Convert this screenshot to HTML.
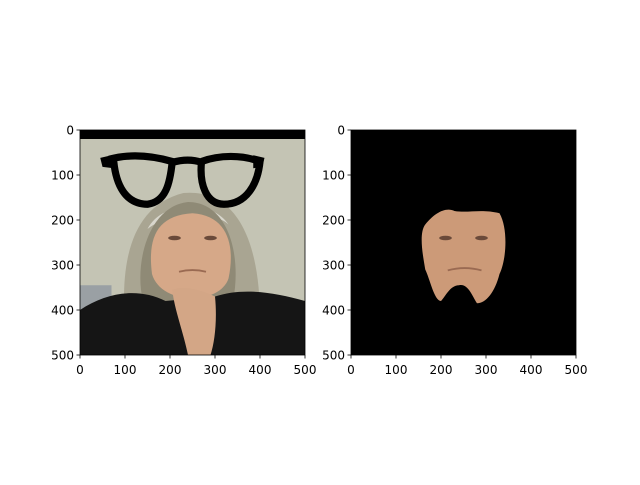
<!DOCTYPE html>
<html><head><meta charset="utf-8"><style>
body{margin:0;background:#fff;}
svg text{font-family:"DejaVu Sans","Liberation Sans",sans-serif;font-size:12px;fill:#000;}
</style></head><body>
<svg width="640" height="480" viewBox="0 0 640 480">
<defs>
<clipPath id="c1"><rect x="0" y="0" width="500" height="500"/></clipPath>
</defs>
<g transform="translate(80,130) scale(0.45)" clip-path="url(#c1)">
  <rect width="500" height="500" fill="#c4c4b4"/>
  <rect width="500" height="20" fill="#000"/>
  <rect x="0" y="345" width="70" height="60" fill="#9aa0a4"/>
  <path d="M100,430 C90,300 110,170 230,140 C350,130 400,250 400,420 Z" fill="#a9a592"/>
  <path d="M150,220 C180,160 290,150 330,210 C300,180 200,180 150,220 Z" fill="#d8d6cc"/>
  <path d="M140,380 C120,300 150,170 240,160 C330,160 360,280 340,380 Z" fill="#8f8a76"/>
  <path d="M160,320 C150,240 170,190 250,185 C330,190 345,260 330,330 C310,390 180,390 160,320 Z" fill="#d6a888"/>
  <ellipse cx="210" cy="240" rx="14" ry="5" fill="#6a4a3a"/>
  <ellipse cx="290" cy="240" rx="14" ry="5" fill="#6a4a3a"/>
  <path d="M220,315 C240,310 260,310 280,315" stroke="#9a6a52" stroke-width="4" fill="none"/>
  <path d="M0,400 C60,360 130,350 190,380 L300,370 C360,350 430,360 500,380 L500,500 L0,500 Z" fill="#151515"/>
  <path d="M205,355 C230,345 270,355 300,370 C305,420 300,470 290,500 L240,500 C230,450 210,400 205,355 Z" fill="#d3a686"/>
  <g fill="none" stroke="#000" stroke-width="16">
    <path d="M65,65 C120,50 170,60 205,70 C200,120 190,160 150,165 C100,165 80,120 75,70"/>
    <path d="M270,70 C310,55 360,55 400,70 C395,120 370,165 320,165 C280,165 265,120 270,70"/>
    <path d="M205,72 C230,65 250,65 270,72"/>
  </g>
  <path d="M45,62 L70,56 L75,85 L50,82 Z M410,62 L385,56 L385,85 L405,82 Z" fill="#000"/>
</g>
<g transform="translate(351,130) scale(0.45)" clip-path="url(#c1)">
  <rect width="500" height="500" fill="#000"/>
  <path d="M165,210 C185,185 210,170 230,180 C260,185 290,175 330,185 C350,220 345,290 330,320 C320,360 300,385 280,385 C270,370 260,340 240,345 C220,345 210,370 200,380 C185,380 175,330 165,310 C160,280 150,230 165,210 Z" fill="#cc9a78"/>
  <ellipse cx="210" cy="240" rx="14" ry="5" fill="#6a4a3a"/>
  <ellipse cx="290" cy="240" rx="14" ry="5" fill="#6a4a3a"/>
  <path d="M215,312 C240,305 265,305 290,312" stroke="#9a6a52" stroke-width="4" fill="none"/>
</g>
<rect x="80" y="130" width="225" height="225" fill="none" stroke="#000" stroke-width="0.8"/>
<rect x="351" y="130" width="225" height="225" fill="none" stroke="#000" stroke-width="0.8"/>
<g id="ticks"></g>
</svg>
<script>
const tickValues=[0,100,200,300,400,500];
const axesLeft=[80,351];
const g=document.getElementById('ticks');
const NS='http://www.w3.org/2000/svg';
axesLeft.forEach((ax,ai)=>{
  tickValues.forEach(v=>{
    const x=ax+v*0.45, y=130+v*0.45;
    let l=document.createElementNS(NS,'line');
    l.setAttribute('x1',x);l.setAttribute('x2',x);l.setAttribute('y1',355);l.setAttribute('y2',358.5);l.setAttribute('stroke','#000');l.setAttribute('stroke-width','0.8');
    
    
    g.appendChild(l);
    let t=document.createElementNS(NS,'text');
    t.setAttribute('x',x);t.setAttribute('y',374);t.setAttribute('text-anchor','middle');t.textContent=v;
    
    
    g.appendChild(t);
    let l2=document.createElementNS(NS,'line');
    l2.setAttribute('x1',ax-3.5);l2.setAttribute('x2',ax);l2.setAttribute('y1',y);l2.setAttribute('y2',y);l2.setAttribute('stroke','#000');l2.setAttribute('stroke-width','0.8');
    
    
    g.appendChild(l2);
    let t2=document.createElementNS(NS,'text');
    t2.setAttribute('x',ax-6);t2.setAttribute('y',y+4.3);t2.setAttribute('text-anchor','end');t2.textContent=v;
    
    
    g.appendChild(t2);
  });
});
</script>
</body></html>
